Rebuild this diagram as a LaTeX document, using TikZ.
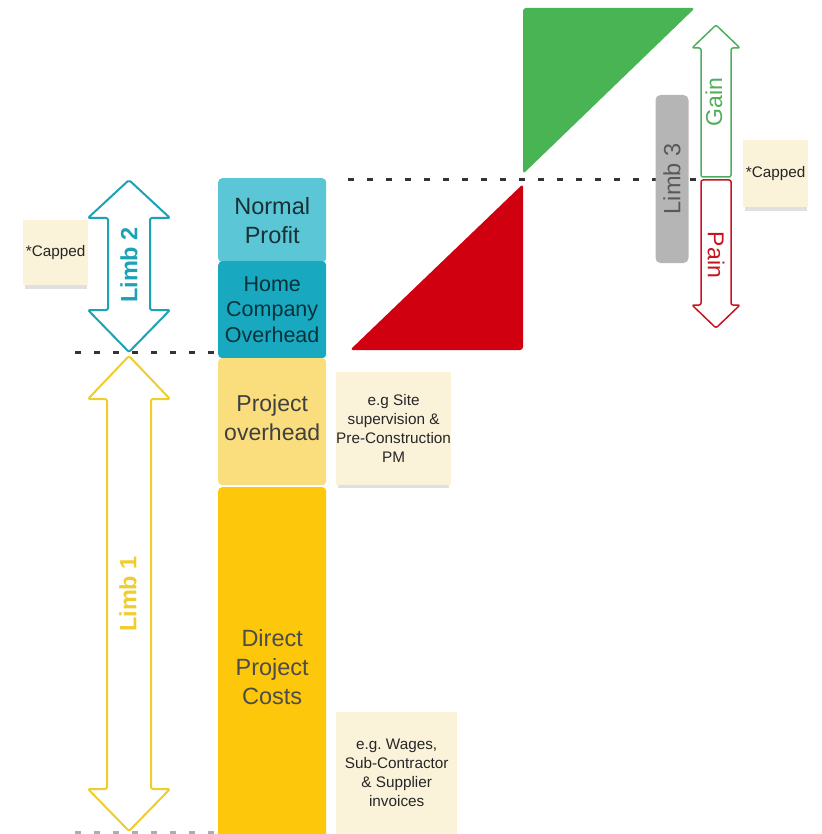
\documentclass[tikz,border=0pt]{standalone}
\usepackage{fontspec}
\setmainfont{Liberation Sans}
\usetikzlibrary{shadows}
\definecolor{profitcol}{HTML}{5BC6D6}
\definecolor{homecol}{HTML}{18A8C0}
\definecolor{projcol}{HTML}{FADD7C}
\definecolor{directcol}{HTML}{FDC80C}
\definecolor{notecol}{HTML}{FBF2DA}
\definecolor{limbtwo}{HTML}{1CA2B5}
\definecolor{limbone}{HTML}{F0CD2E}
\definecolor{gaincol}{HTML}{4DAE5B}
\definecolor{paincol}{HTML}{C8141F}
\definecolor{greentri}{HTML}{48B454}
\definecolor{redtri}{HTML}{D10011}
\definecolor{limbgray}{HTML}{B5B5B5}
\definecolor{dashcol}{HTML}{333333}
\begin{document}
\begin{tikzpicture}[x=1pt, y=-1pt,
    bar/.style={rounded corners=4pt, anchor=north west, minimum width=108pt, align=center, inner sep=0pt},
    note/.style={fill=notecol, anchor=north west, align=center, inner sep=0pt, text=black!85,
        font=\fontsize{15.3}{19}\selectfont,
        drop shadow={shadow xshift=0pt, shadow yshift=-5pt, shadow scale=0.96, opacity=0.12, fill=black}},
    cut/.style={draw=dashcol, line width=3pt, dash pattern=on 6pt off 13pt},
    limb/.style={fill=white, line width=2pt, line join=round, rounded corners=2pt}]
    \useasboundingbox (0,0) rectangle (821,834);

    % dashed levels
    \coordinate (capL) at (348,180);
    \coordinate (capR) at (700,180);
    \coordinate (costL) at (75,352);
    \coordinate (costR) at (218,352);
    \coordinate (baseL) at (75,832);
    \coordinate (baseR) at (218,832);
    \draw[cut] (capL) -- (capR);
    \draw[cut] (costL) -- (costR);
    \draw[cut, draw=dashcol!40] (baseL) -- (baseR);

    % cost bars
    \node[bar, fill=profitcol, text=profitcol!25!black, minimum height=84pt,
        font=\fontsize{23.5}{29}\selectfont] (profit) at (218,178) {Normal\\Profit};
    \node[bar, fill=homecol, text=homecol!30!black, minimum height=97pt,
        font=\fontsize{21.5}{25.5}\selectfont] (home) at (218,261) {Home\\Company\\Overhead};
    \node[bar, fill=projcol, text=black!75, minimum height=127pt,
        font=\fontsize{23}{29}\selectfont] (project) at (218,358) {Project\\overhead\\[-21pt]};
    \node[bar, fill=directcol, text=black!70, minimum height=360pt,
        font=\fontsize{23.5}{29}\selectfont] (direct) at (218,487) {Direct\\Project\\Costs};

    % notes
    \node[note, minimum width=114pt, minimum height=113pt] (site) at (336,372)
        {e.g Site\\supervision \&\\Pre-Construction\\PM};
    \node[note, minimum width=121pt, minimum height=122pt] (wages) at (336,712)
        {e.g.\ Wages,\\Sub-Contractor\\\& Supplier\\invoices};
    \node[note, minimum width=65pt, minimum height=65pt] (capleft) at (23,220) {*Capped};
    \node[note, minimum width=65pt, minimum height=67pt] (capright) at (743,140) {*Capped};

    % gain / pain triangles
    \fill[redtri, rounded corners=3pt] (350,350) -- (523,350) -- (523,184) -- cycle;
    \fill[greentri, rounded corners=3pt] (523,8) -- (695,8) -- (523,174) -- cycle;

    % limb arrows
    \draw[limb, draw=limbtwo] (129,180) -- (170,218) -- (150,218) -- (150,310) -- (170,310)
        -- (129,352) -- (88,310) -- (108,310) -- (108,218) -- (88,218) -- cycle;
    \draw[limb, draw=limbone] (129,356) -- (170,399) -- (151,399) -- (151,789) -- (170,789)
        -- (129,831) -- (88,789) -- (107,789) -- (107,399) -- (88,399) -- cycle;
    \draw[limb, draw=gaincol, line width=1.5pt] (716,25) -- (740,48) -- (731,48) -- (731,177)
        -- (701,177) -- (701,48) -- (692,48) -- cycle;
    \draw[limb, draw=paincol, line width=1.5pt] (701,180) -- (731,180) -- (731,305) -- (740,305)
        -- (716,328) -- (692,305) -- (701,305) -- cycle;

    \node[rotate=90, text=limbtwo, font=\bfseries\fontsize{23.5}{23.5}\selectfont] (limb2) at (129,265) {Limb 2};
    \node[rotate=90, text=limbone, font=\bfseries\fontsize{23.5}{23.5}\selectfont] (limb1) at (128,594) {Limb 1};
    \node[rotate=90, text=gaincol, font=\fontsize{23}{23}\selectfont] (gain) at (714,102) {Gain};
    \node[rotate=-90, text=paincol, font=\fontsize{23}{23}\selectfont] (pain) at (716,255) {Pain};
    \node[rotate=90, fill=limbgray, rounded corners=5pt, minimum width=168pt, minimum height=33pt,
        inner sep=0pt, text=black!65, font=\fontsize{23.5}{23.5}\selectfont] (limb3) at (672,179) {Limb 3};
\end{tikzpicture}
\end{document}
